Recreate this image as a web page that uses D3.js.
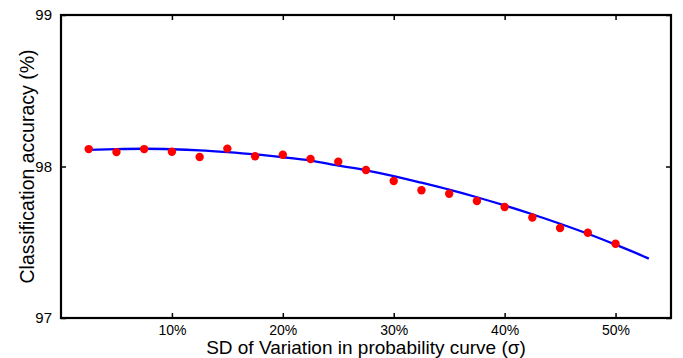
<!DOCTYPE html>
<html><head><meta charset="utf-8">
<script src="https://cdn.jsdelivr.net/npm/d3@7"></script>
<style>body{margin:0;background:#fff}svg{display:block}text{font-family:"Liberation Sans",Arial,sans-serif}</style>
</head><body>
<svg id="c" width="683" height="358"></svg>
<script>
const pointX = [0.025,0.05,0.075,0.10,0.125,0.15,0.175,0.20,0.225,0.25,0.275,0.30,0.325,0.35,0.375,0.40,0.425,0.45,0.475,0.50];
const pointY = [98.115,98.095,98.115,98.097,98.063,98.118,98.068,98.078,98.050,98.032,97.977,97.904,97.843,97.820,97.772,97.733,97.663,97.594,97.563,97.490];
const curveX = [0.025,0.05,0.075,0.10,0.125,0.15,0.175,0.20,0.225,0.25,0.275,0.30,0.325,0.35,0.375,0.40,0.425,0.45,0.475,0.50,0.525,0.53];
const curveY = [98.110,98.115,98.117,98.114,98.107,98.095,98.080,98.061,98.039,98.006,97.975,97.937,97.893,97.847,97.797,97.743,97.685,97.622,97.556,97.484,97.408,97.392];
const xTicks = [0.1,0.2,0.3,0.4,0.5];
const yTicks = [97,98,99];

const svg = d3.select("#c");
const L=61,R=671,T=15,B=318;
const x = d3.scaleLinear().domain([0,0.55]).range([L,R]);
const y = d3.scaleLinear().domain([97,99]).range([B,T]);

const g = svg.append("g");
g.append("g").attr("transform",`translate(0,${B})`)
  .call(d3.axisBottom(x).tickValues(xTicks).tickSizeInner(-5).tickSizeOuter(0).tickPadding(7.5).tickFormat(d3.format(".0%")))
  .call(a=>{a.select(".domain").remove();a.selectAll("line").attr("stroke","#000").attr("stroke-width",1.5);a.selectAll("text").attr("font-size",14).attr("fill","#000");});
g.append("g").attr("transform",`translate(0,${T})`)
  .call(d3.axisTop(x).tickValues(xTicks).tickSizeInner(-5).tickSizeOuter(0).tickFormat(""))
  .call(a=>{a.select(".domain").remove();a.selectAll("line").attr("stroke","#000").attr("stroke-width",1.5);});
g.append("g").attr("transform",`translate(${L},0)`)
  .call(d3.axisLeft(y).tickValues(yTicks).tickSizeInner(-5).tickSizeOuter(0).tickPadding(9).tickFormat(d3.format("d")))
  .call(a=>{a.select(".domain").remove();a.selectAll("line").attr("stroke","#000").attr("stroke-width",1.5);a.selectAll("text").attr("font-size",15).attr("fill","#000");});
g.append("g").attr("transform",`translate(${R},0)`)
  .call(d3.axisRight(y).tickValues(yTicks).tickSizeInner(-5).tickSizeOuter(0).tickFormat(""))
  .call(a=>{a.select(".domain").remove();a.selectAll("line").attr("stroke","#000").attr("stroke-width",1.5);});

const line = d3.line().x(d=>x(d[0])).y(d=>y(d[1])).curve(d3.curveMonotoneX);
svg.append("path").datum(curveX.map((v,i)=>[v,curveY[i]]))
  .attr("d",line).attr("fill","none").attr("stroke","#0000ff").attr("stroke-width",2.3);

svg.append("g").selectAll("circle").data(pointX.map((v,i)=>[v,pointY[i]])).join("circle")
  .attr("cx",d=>x(d[0])).attr("cy",d=>y(d[1])).attr("r",4.2).attr("fill","#ff0000");

svg.append("rect").attr("x",L).attr("y",T).attr("width",R-L).attr("height",B-T)
  .attr("fill","none").attr("stroke","#000").attr("stroke-width",2.2);

svg.append("text").attr("x",(L+R)/2).attr("y",354).attr("text-anchor","middle").attr("font-size",19).text("SD of Variation in probability curve (σ)");
svg.append("text").attr("transform",`translate(34,${(T+B)/2}) rotate(-90)`).attr("text-anchor","middle").attr("font-size",19.5).text("Classification accuracy (%)");
</script>
</body></html>
